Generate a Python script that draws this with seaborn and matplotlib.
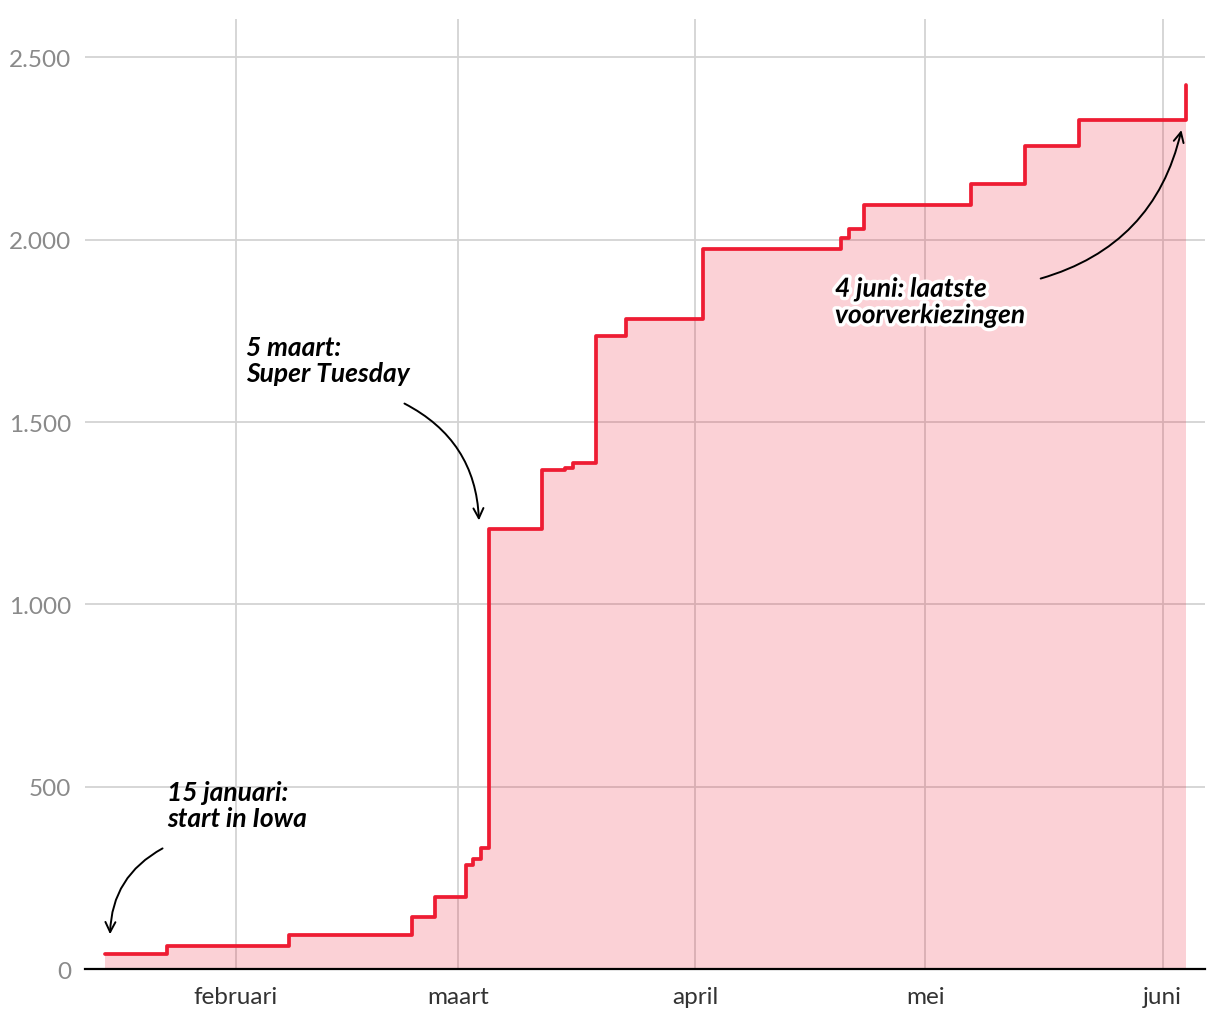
import matplotlib.pyplot as plt
import matplotlib.patheffects as pe
import matplotlib.ticker as mticker
import seaborn as sns
import pandas as pd

# Stijl
sns.set_theme(style="whitegrid")
plt.rcParams['font.family'] = ['Lato', 'DejaVu Sans']

# Cumulatief aantal toegekende gedelegeerden per voorverkiezingsdatum
datums = ["2024-01-15", "2024-01-23", "2024-02-08", "2024-02-24", "2024-02-27",
          "2024-03-02", "2024-03-03", "2024-03-04", "2024-03-05", "2024-03-12",
          "2024-03-15", "2024-03-16", "2024-03-19", "2024-03-23", "2024-04-02",
          "2024-04-20", "2024-04-21", "2024-04-23", "2024-05-07", "2024-05-14",
          "2024-05-21", "2024-06-04"]
gedelegeerden = [40, 63, 92, 143, 198,
                 285, 303, 332, 1206, 1368,
                 1375, 1387, 1735, 1782, 1975,
                 2004, 2028, 2095, 2152, 2257,
                 2328, 2423]

maand_ticks = ["2024-02-01", "2024-03-01", "2024-04-01", "2024-05-01", "2024-06-01"]
maand_labels = ["februari", "maart", "april", "mei", "juni"]
y_ticks = [0, 500, 1000, 1500, 2000, 2500]

df = pd.DataFrame({"datum": pd.to_datetime(datums), "gedelegeerden": gedelegeerden})

rood = "#ee1c33"

fig = plt.figure(figsize=(12.2, 10.2), dpi=100)
ax = fig.add_axes([0.0697, 0.049, 0.918, 0.931])

ax.fill_between(df["datum"], df["gedelegeerden"], step="post", color=rood, alpha=0.2,
                linewidth=0, zorder=3)
sns.lineplot(data=df, x="datum", y="gedelegeerden", drawstyle="steps-post",
             color=rood, linewidth=2.7, ax=ax, zorder=4)

# Assen
ax.set_xlim(pd.Timestamp("2024-01-12 08:00"), pd.Timestamp("2024-06-06 12:00"))
ax.set_ylim(0, 2604)
ax.set_xticks(pd.to_datetime(maand_ticks))
ax.set_xticklabels(maand_labels)
ax.set_yticks(y_ticks)
ax.yaxis.set_major_formatter(mticker.FuncFormatter(lambda v, p: f"{int(v):,}".replace(",", ".")))
ax.set_xlabel("")
ax.set_ylabel("")

ax.grid(True, color="#d3d3d3", linewidth=1.3, zorder=1)
ax.set_axisbelow(True)
for s in ["left", "right", "top"]:
    ax.spines[s].set_visible(False)
ax.spines["bottom"].set_color("black")
ax.spines["bottom"].set_linewidth(1.6)
ax.spines["bottom"].set_zorder(5)

ax.tick_params(axis="x", length=0, pad=12, labelsize=17.5, labelcolor="#333333")
ax.tick_params(axis="y", length=0, pad=10, labelsize=17.5, labelcolor="#8a8a8a")

# Annotaties
tekst_stijl = dict(fontsize=19, fontstyle="italic", fontweight="bold", color="black",
                   xycoords="axes fraction", textcoords="axes fraction",
                   va="top", ha="left", linespacing=1.12)
pijl = dict(arrowstyle="->", color="black", lw=1.4, mutation_scale=18)

ax.annotate("15 januari:\nstart in Iowa", xy=(0.0732, 0.199), **tekst_stijl)
ax.annotate("", xy=(0.0223, 0.0337), xytext=(0.0714, 0.1284), xycoords="axes fraction",
            textcoords="axes fraction",
            arrowprops=dict(pijl, connectionstyle="arc3,rad=0.3"))

ax.annotate("5 maart:\nSuper Tuesday", xy=(0.1438, 0.668), **tekst_stijl)
ax.annotate("", xy=(0.3518, 0.4695), xytext=(0.283, 0.5968), xycoords="axes fraction",
            textcoords="axes fraction",
            arrowprops=dict(pijl, connectionstyle="arc3,rad=-0.3"))

t = ax.annotate("4 juni: laatste\nvoorverkiezingen", xy=(0.6696, 0.729), zorder=6, **tekst_stijl)
t.set_path_effects([pe.withStroke(linewidth=5, foreground="white")])
ax.annotate("", xy=(0.9795, 0.8863), xytext=(0.8509, 0.7263), xycoords="axes fraction",
            textcoords="axes fraction",
            arrowprops=dict(pijl, connectionstyle="arc3,rad=0.3"), zorder=6)

fig.savefig("out.png", dpi=100)
